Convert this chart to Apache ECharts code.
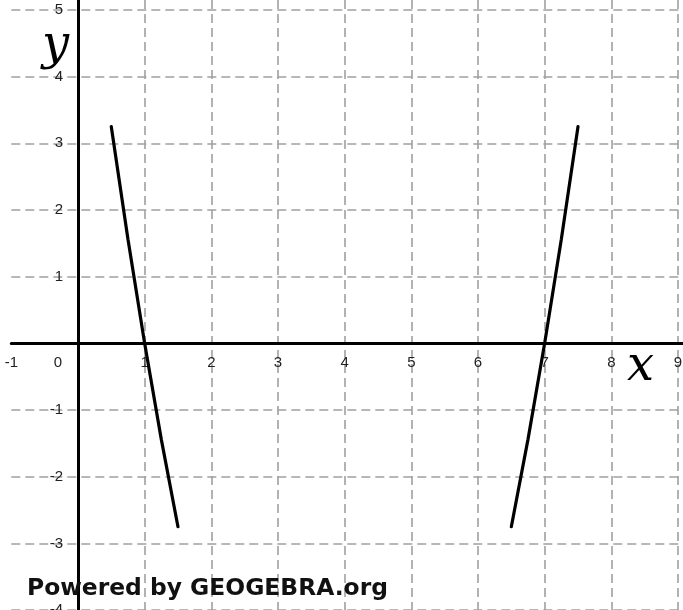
<!DOCTYPE html>
<html>
<head>
<meta charset="utf-8">
<script src="https://cdn.jsdelivr.net/npm/echarts@6/dist/echarts.min.js"></script>
<style>
html,body{margin:0;padding:0;background:#fff;}
#chart{width:683px;height:610px;}
</style>
</head>
<body>
<div id="chart"></div>
<script>
// Curve pieces
const leftX  = [0.5, 0.75, 1, 1.25, 1.5];
const leftY  = [3.25, 1.56, 0, -1.44, -2.75];
const rightX = [6.5, 6.75, 7, 7.25, 7.5];
const rightY = [-2.75, -1.44, 0, 1.56, 3.25];
// Axis ranges / tick step
const xRange = [-1, 9.1];
const yRange = [-4, 5.15];
const tickStep = 1;

const pair = (xs, ys) => xs.map((x, i) => [x, ys[i]]);

const chart = echarts.init(document.getElementById('chart'), null, {renderer: 'canvas'});
const unit = 66.67;
const gridLine = {show: true, lineStyle: {color: '#a0a0a0', width: 1.6, type: [9, 5]}};
const labelFont = 'Liberation Sans, Arial, sans-serif';

chart.setOption({
  animation: false,
  backgroundColor: '#fff',
  grid: {left: 11.3, top: 0, width: (xRange[1] - xRange[0]) * unit, height: (yRange[1] - yRange[0]) * unit,
         containLabel: false, outerBoundsMode: 'none'},
  xAxis: {
    type: 'value', min: xRange[0], max: xRange[1], interval: tickStep,
    position: 'bottom', offset: yRange[0] * unit,
    axisLine: {show: true, onZero: false, lineStyle: {color: '#000', width: 3}},
    axisTick: {show: false},
    splitLine: Object.assign({showMinLine: false, showMaxLine: false}, gridLine),
    axisLabel: {
      margin: 12, fontSize: 15, color: '#222', fontFamily: labelFont,
      showMaxLabel: false, showMinLabel: true, hideOverlap: false,
      formatter: v => v === 0 ? '{z|0}' : String(v),
      rich: {z: {fontSize: 15, color: '#222', fontFamily: labelFont, padding: [0, 40, 0, 0]}}
    }
  },
  yAxis: {
    type: 'value', min: yRange[0], max: yRange[1], interval: tickStep,
    position: 'left', offset: xRange[0] * unit,
    axisLine: {show: true, onZero: false, lineStyle: {color: '#000', width: 3}},
    axisTick: {show: false},
    splitLine: Object.assign({showMinLine: true, showMaxLine: false}, gridLine),
    axisLabel: {
      margin: 15, fontSize: 15, color: '#222', fontFamily: labelFont,
      showMaxLabel: false, hideOverlap: false,
      formatter: v => v === 0 ? '' : String(v)
    }
  },
  series: [
    {type: 'line', data: pair(leftX, leftY), showSymbol: false, symbol: 'none',
     lineStyle: {color: '#000', width: 3.2, cap: 'round'}},
    {type: 'line', data: pair(rightX, rightY), showSymbol: false, symbol: 'none',
     lineStyle: {color: '#000', width: 3.2, cap: 'round'}}
  ],
  graphic: [
    {type: 'text', left: 42, top: 23, z: 10,
     style: {text: 'y', font: 'italic 48px "DejaVu Serif", "Liberation Serif", serif', fill: '#000'}},
    {type: 'text', left: 627, top: 344, z: 10,
     style: {text: 'x', font: 'italic 48px "DejaVu Serif", "Liberation Serif", serif', fill: '#000'}},
    {type: 'text', left: 27, top: 577, z: 10,
     style: {text: 'Powered by GEOGEBRA.org', font: 'bold 23.4px "DejaVu Sans", Verdana, sans-serif', fill: '#111'}}
  ]
});
</script>
</body>
</html>
